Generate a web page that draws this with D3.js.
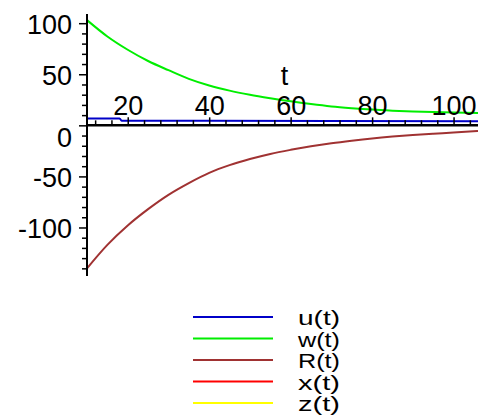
<!DOCTYPE html>
<html><head><meta charset="utf-8">
<script src="https://cdn.jsdelivr.net/npm/d3@7"></script>
<style>
html,body{margin:0;padding:0;background:#fff;}
svg text{font-family:"Liberation Sans",Arial,sans-serif;fill:#000;}
</style></head>
<body>
<svg id="chart" width="482" height="416"></svg>
<script>
// ---- data ----
const tValues = [10,15,20,25,30,35,40,45,50,55,60,65,70,75,80,85,90,95,100,106];
const wValues = [103,87,74,63,54,45.5,39,34,30,26.6,23.5,20.8,18.5,16.8,15.4,14.4,13.6,13,12.6,12.2];
const rValues = [-140,-117,-98,-82,-68,-56.5,-46.5,-39,-33,-28,-24,-20.5,-17.5,-15,-12.8,-11,-9.5,-8.2,-7,-5.5];
const uT = [10,18,18.5,40,70,106];
const uValues = [6.8,6.7,4.6,4.4,4.2,4.1];
const xTicksMajor = [20,40,60,80,100];
const xTicksMinor = [12,16,24,28,32,36,44,48,52,56,64,68,72,76,84,88,92,96,104];
const yTicksMajor = [-100,-50,0,50,100];
const yTicksMinor = [-140,-130,-120,-110,-90,-80,-70,-60,-40,-30,-20,-10,10,20,30,40,60,70,80,90];
const legendNames = ["u(t)","w(t)","R(t)","x(t)","z(t)"];
const legendColors = ["#0000c8","#00ee00","#a03232","#ff0000","#ffff00"];

const svg = d3.select("#chart");
const x = d3.scaleLinear().domain([10,106]).range([87,478]);
const y = d3.scaleLinear().domain([-147.5,109]).range([276,14]);

const line = d3.line().x(d=>x(d[0])).y(d=>y(d[1])).curve(d3.curveMonotoneX);
const series = [
  {pts: d3.zip(uT,uValues), color: legendColors[0]},
  {pts: d3.zip(tValues,wValues), color: legendColors[1]},
  {pts: d3.zip(tValues,rValues), color: legendColors[2]}
];
svg.append("g").selectAll("path").data(series).join("path")
  .attr("d", d=>line(d.pts)).attr("fill","none")
  .attr("stroke", d=>d.color).attr("stroke-width",2);

const fmt = d => String(d);
const x0 = x(10), y0 = y(0);
// x axis
const gx = svg.append("g").attr("transform",`translate(0,${y0})`);
gx.call(d3.axisTop(x).tickValues(xTicksMinor).tickSize(5).tickFormat(""));
const gx2 = svg.append("g").attr("transform",`translate(0,${y0})`);
gx2.call(d3.axisTop(x).tickValues(xTicksMajor).tickSize(8).tickPadding(2).tickFormat(fmt));
[gx,gx2].forEach(g=>{g.select(".domain").remove(); g.selectAll("line").attr("stroke","#000").attr("stroke-width",1.5);});
gx2.selectAll("text").style("font-size","27px").style("font-family","'Liberation Sans',Arial,sans-serif");
svg.append("line").attr("x1",x0).attr("x2",x(106)).attr("y1",y0).attr("y2",y0)
  .attr("stroke","#000").attr("stroke-width",2.5);

// y axis
const gy = svg.append("g").attr("transform",`translate(${x0},0)`);
gy.call(d3.axisLeft(y).tickValues(yTicksMinor).tickSize(5).tickFormat(""));
const gy2 = svg.append("g").attr("transform",`translate(${x0},0)`);
gy2.call(d3.axisLeft(y).tickValues(yTicksMajor).tickSize(8).tickPadding(7).tickFormat(fmt));
[gy,gy2].forEach(g=>{g.select(".domain").remove(); g.selectAll("line").attr("stroke","#000").attr("stroke-width",1.5);});
gy2.selectAll("text").style("font-size","27px").style("font-family","'Liberation Sans',Arial,sans-serif")
  .attr("dy", d=> d===0 ? "0.78em" : "0.38em");
svg.append("line").attr("x1",x0).attr("x2",x0).attr("y1",y(109)).attr("y2",y(-147.5))
  .attr("stroke","#000").attr("stroke-width",2);

// axis title
svg.append("text").attr("x",x(58.5)).attr("y",85).attr("text-anchor","middle")
  .style("font-size","27px").text("t");

// legend
const lg = svg.append("g");
const rows = lg.selectAll("g").data(legendNames).join("g")
  .attr("transform",(d,i)=>`translate(0,${317 + i*21.5})`);
rows.append("line").attr("x1",193).attr("x2",273).attr("y1",0).attr("y2",0)
  .attr("stroke",(d,i)=>legendColors[i]).attr("stroke-width",2);
rows.append("text").attr("x",298).attr("y",8).style("font-size","21px")
  .attr("textLength",42).attr("lengthAdjust","spacingAndGlyphs").text(d=>d);
</script>
</body></html>
